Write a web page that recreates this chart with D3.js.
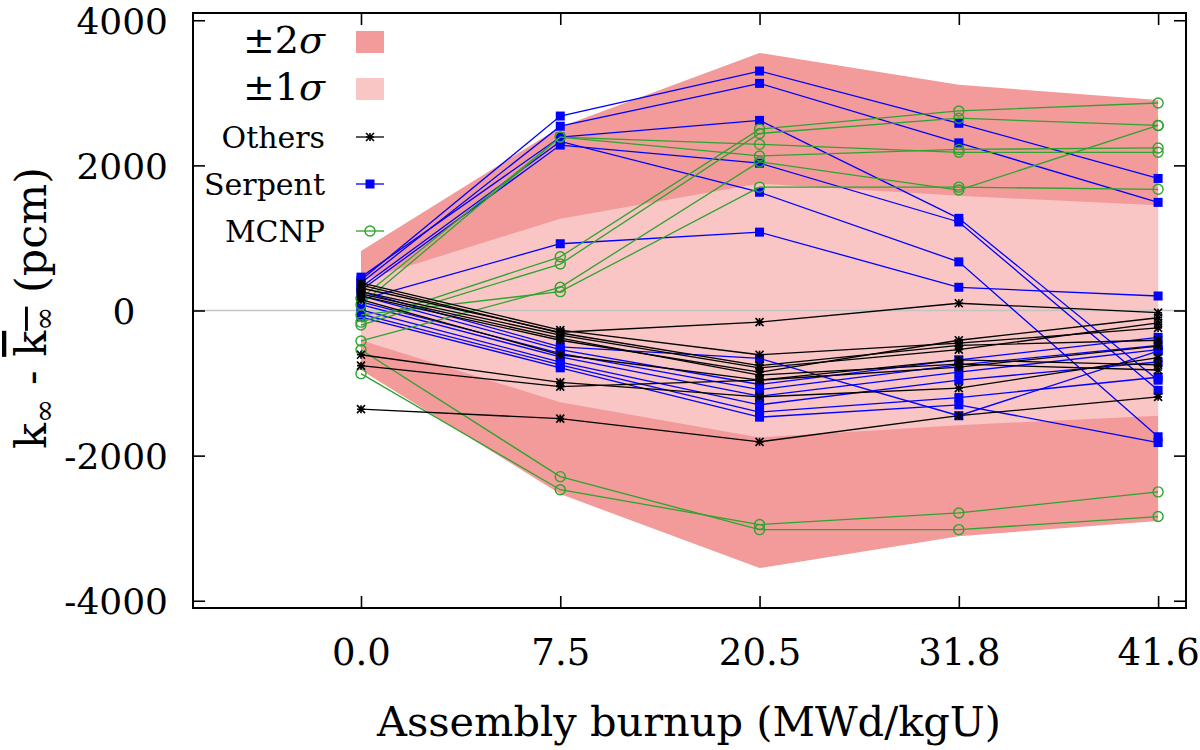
<!DOCTYPE html>
<html>
<head>
<meta charset="utf-8">
<script src="https://cdn.jsdelivr.net/npm/d3@7"></script>
<style>
  body { margin: 0; background: #fff; }
</style>
</head>
<body>
<script>
// burnup steps (categorical x axis)
const burnup = ['0.0', '7.5', '20.5', '31.8', '41.6'];

// spread bands around the mean (pcm)
const sigma1 = [410, 1265, 1750, 1580, 1450];
const sigma2 = [820, 2530, 3550, 3110, 2900];

// k_inf - mean, pcm, one row per participant
const others = [
  [310, -300, -160, 100, -30],
  [-610, -990, -1190, -1070, -650],
  [-760, -1050, -960, -780, -490],
  [-1360, -1490, -1810, -1450, -1190],
  [380, -270, -610, -450, -240],
  [260, -340, -790, -540, -170],
  [200, -410, -850, -410, -100],
  [150, -610, -960, -680, -750],
  [350, -310, -760, -480, -410],
  [230, -380, -890, -740, -820]
];
const serpent = [
  [420, 2680, 3300, 2580, 1820],
  [380, 2540, 3130, 2310, 1490],
  [460, 2390, 2620, 1270, -960],
  [280, 2280, 2030, 1220, -1100],
  [320, 2330, 1630, 670, -1740],
  [150, 920, 1080, 320, 200],
  [260, -500, -660, -1450, -560],
  [200, -540, -1020, -680, -370],
  [120, -590, -1090, -750, -480],
  [80, -640, -1180, -850, -540],
  [10, -710, -1300, -960, -710],
  [-50, -750, -1400, -1200, -920],
  [-90, -790, -1470, -1300, -1820]
];
const mcnp = [
  [170, 2390, 2290, 2180, 2180],
  [80, 2390, 2130, 2220, 2240],
  [-160, 740, 2500, 2750, 2860],
  [-200, 640, 2440, 2650, 2550],
  [-420, 320, 2050, 1660, 2550],
  [-60, 260, 1700, 1700, 1670],
  [-540, -2290, -3020, -3020, -2840],
  [-870, -2470, -2950, -2790, -2500]
];

const yTicks = [4000, 2000, 0, -2000, -4000];

const width = 1200, height = 750;
const plotL = 193, plotR = 1186, plotT = 13, plotB = 608;
const serif = "'DejaVu Serif', serif";

const red2 = '#f29b9a', red1 = '#f9c5c5';
const blue = '#0000ff', green = '#2fa32f';

const x = d3.scaleLinear().domain([-0.843, 4.14]).range([plotL, plotR]);
const y = d3.scaleLinear().domain([-4100, 4100]).range([plotB, plotT]);

const svg = d3.select('body').append('svg')
  .attr('width', width)
  .attr('height', height)
  .attr('viewBox', [0, 0, width, height]);

// bands
const band = s => d3.area()
  .x((d, i) => x(i))
  .y0(d => y(-d))
  .y1(d => y(d))(s);

svg.append('path').attr('d', band(sigma2)).attr('fill', red2);
svg.append('path').attr('d', band(sigma1)).attr('fill', red1);

// zero line
svg.append('line')
  .attr('x1', plotL).attr('x2', plotR)
  .attr('y1', y(0)).attr('y2', y(0))
  .attr('stroke', '#c4c4c4')
  .attr('stroke-width', 1.6);

const line = d3.line().x((d, i) => x(i)).y(d => y(d));

function drawGroup(rows, color, marker) {
  const g = svg.append('g');
  rows.forEach(r => {
    g.append('path')
      .attr('d', line(r))
      .attr('fill', 'none')
      .attr('stroke', color)
      .attr('stroke-width', 1.3);
    r.forEach((v, i) => marker(g, x(i), y(v)));
  });
}

const square = (g, cx, cy) => g.append('rect')
  .attr('x', cx - 4.5).attr('y', cy - 4.5)
  .attr('width', 9).attr('height', 9)
  .attr('fill', blue);

const circle = (g, cx, cy) => g.append('circle')
  .attr('cx', cx).attr('cy', cy).attr('r', 5)
  .attr('fill', 'none')
  .attr('stroke', green)
  .attr('stroke-width', 1.4);

const star = (g, cx, cy) => {
  const s = 4;
  g.append('path')
    .attr('d', `M${cx - s},${cy}H${cx + s}M${cx},${cy - s}V${cy + s}M${cx - s},${cy - s}L${cx + s},${cy + s}M${cx - s},${cy + s}L${cx + s},${cy - s}`)
    .attr('stroke', '#000')
    .attr('stroke-width', 1.6);
};

drawGroup(serpent, blue, square);
drawGroup(mcnp, green, circle);
drawGroup(others, '#000', star);

// axes
const yAxis = svg.append('g')
  .attr('transform', `translate(${plotL},0)`)
  .call(d3.axisLeft(y).tickValues(yTicks).tickSize(-12).tickPadding(25).tickFormat(d => String(d)));
yAxis.selectAll('text')
  .attr('font-size', 36)
  .attr('dy', '0.36em')
  .attr('text-anchor', d => d === 0 ? 'middle' : 'end')
  .attr('x', d => d === 0 ? -69 : -25);

svg.append('g')
  .attr('transform', `translate(${plotR},0)`)
  .call(d3.axisRight(y).tickValues(yTicks).tickSize(-12).tickFormat(''));

const xAxis = svg.append('g')
  .attr('transform', `translate(0,${plotB})`)
  .call(d3.axisBottom(x).tickValues(d3.range(burnup.length)).tickSize(-12).tickFormat(i => burnup[i]));
xAxis.selectAll('text')
  .attr('font-size', 37)
  .attr('y', 57)
  .attr('dy', 0);

svg.append('g')
  .attr('transform', `translate(0,${plotT})`)
  .call(d3.axisTop(x).tickValues(d3.range(burnup.length)).tickSize(-12).tickFormat(''));

svg.selectAll('.domain').remove();
svg.selectAll('.tick line').attr('stroke', '#000').attr('stroke-width', 1.6);

svg.append('rect')
  .attr('x', plotL).attr('y', plotT)
  .attr('width', plotR - plotL).attr('height', plotB - plotT)
  .attr('fill', 'none')
  .attr('stroke', '#000')
  .attr('stroke-width', 2);

// axis titles
svg.append('text')
  .attr('x', 689)
  .attr('y', 736)
  .attr('text-anchor', 'middle')
  .attr('font-size', 41.5)
  .text('Assembly burnup (MWd/kgU)');

const yl = svg.append('text')
  .attr('transform', `translate(46,308) rotate(-90)`)
  .attr('text-anchor', 'middle')
  .attr('font-size', 43);
yl.append('tspan').text('k');
yl.append('tspan').attr('dy', 8).attr('font-size', 29).text('∞');
yl.append('tspan').attr('dy', -8).text(' - ');
const ov = yl.append('tspan').style('text-decoration', 'overline');
ov.append('tspan').text('k');
ov.append('tspan').attr('dy', 8).attr('font-size', 29).text('∞');
yl.append('tspan').attr('dy', -8).text(' (pcm)');

// legend
const legend = svg.append('g');
const lx = 325;
[['±2', red2, 53], ['±1', red1, 100]].forEach(([t, c, by]) => {
  const tx = legend.append('text')
    .attr('x', lx).attr('y', by)
    .attr('text-anchor', 'end')
    .attr('font-size', 38);
  tx.append('tspan').text(t);
  tx.append('tspan').attr('font-style', 'italic').text('σ');
  legend.append('rect')
    .attr('x', 356).attr('y', by - 22)
    .attr('width', 28).attr('height', 22)
    .attr('fill', c);
});

[['Others', '#000', star, 137], ['Serpent', blue, square, 184], ['MCNP', green, circle, 231]].forEach(([t, c, m, ly]) => {
  legend.append('text')
    .attr('x', lx).attr('y', ly + 11)
    .attr('text-anchor', 'end')
    .attr('font-size', 30)
    .text(t);
  legend.append('line')
    .attr('x1', 356).attr('x2', 384)
    .attr('y1', ly).attr('y2', ly)
    .attr('stroke', c)
    .attr('stroke-width', 1.3);
  m(legend, 370, ly);
});

svg.selectAll('text').style('font-family', serif);
</script>
</body>
</html>
